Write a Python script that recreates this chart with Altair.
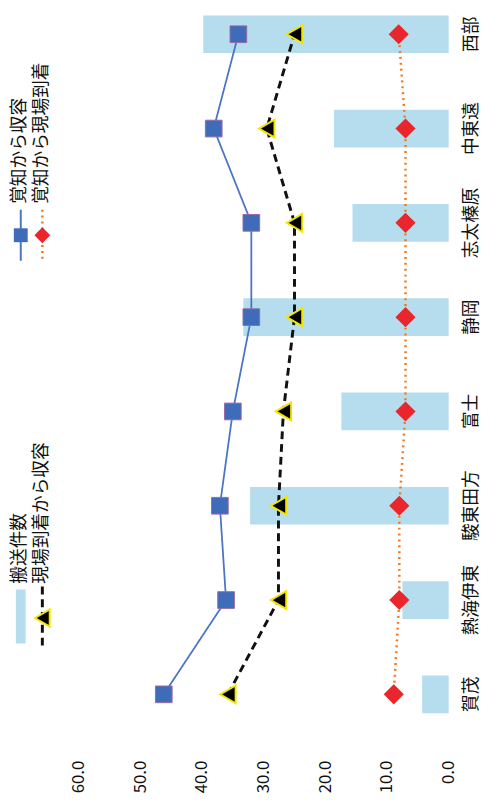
import altair as alt
import pandas as pd

# ---- data ----
categories = ["賀茂", "熱海伊東", "駿東田方", "富士", "静岡", "志太榛原", "中東遠", "西部"]
transport_count = [4.3, 7.5, 32.2, 17.4, 33.3, 15.6, 18.6, 39.8]      # 搬送件数 (bars)
call_to_admit = [46.2, 36.1, 37.1, 35.0, 32.0, 32.0, 38.1, 34.1]        # 覚知から収容
arrive_to_admit = [35.8, 27.6, 27.6, 26.8, 25.0, 25.0, 29.5, 25.0]      # 現場到着から収容
call_to_arrive = [8.9, 8.0, 8.0, 7.0, 7.0, 7.0, 7.0, 8.1]               # 覚知から現場到着
tick_values = [0, 10, 20, 30, 40, 50, 60]
legend_labels = ["搬送件数", "現場到着から収容", "覚知から収容", "覚知から現場到着"]

df = pd.DataFrame({
    "cat": categories,
    "idx": list(range(len(categories))),
    "bar": transport_count,
    "a": call_to_admit,
    "b": arrive_to_admit,
    "c": call_to_arrive,
})

FONT = "Noto Sans CJK JP"
BAR_COLOR = "#b6dded"
order_top_down = categories[::-1]

xscale = alt.Scale(domain=[0, 60], reverse=True, nice=False)
yscale = alt.Scale(domain=order_top_down, paddingInner=0.6, paddingOuter=0)

x_axis = alt.Axis(values=tick_values, format=".1f", labelAngle=270, labelAlign="right",
                  labelBaseline="middle", labelPadding=48, ticks=False, domain=False,
                  grid=False, title=None, labelFontSize=17, labelFont=FONT,
                  labelColor="#111")
y_axis = alt.Axis(orient="right", labelAngle=270, labelAlign="center", labelBaseline="middle",
                  labelPadding=23, ticks=False, domain=False, grid=False, title=None,
                  labelFontSize=18, labelFont=FONT, labelColor="#111")

base = alt.Chart(df)

bars = base.mark_bar(color=BAR_COLOR, opacity=1).encode(
    x=alt.X("bar:Q", scale=xscale, axis=x_axis),
    y=alt.Y("cat:N", scale=yscale, sort=order_top_down, axis=y_axis),
)

def series(field, stroke, width, dash, shape, fill, size, mstroke, mwidth):
    line = base.mark_line(color=stroke, strokeWidth=width, strokeDash=dash).encode(
        x=alt.X(f"{field}:Q", scale=xscale),
        y=alt.Y("cat:N", scale=yscale, sort=order_top_down),
        order="idx:O",
    )
    pts = base.mark_point(shape=shape, filled=True, fill=fill, size=size, opacity=1,
                          stroke=mstroke, strokeWidth=mwidth).encode(
        x=alt.X(f"{field}:Q", scale=xscale),
        y=alt.Y("cat:N", scale=yscale, sort=order_top_down),
    )
    return [line, pts]

layers = [bars]
layers += series("a", "#4a74c4", 1.8, [1, 0], "square", "#3f6cb8", 289, "#9a6aa8", 1)
layers += series("b", "#111111", 3, [8, 5], "triangle-left", "#000000", 330, "#f2e600", 2)
layers += series("c", "#f07a20", 2.5, [2, 4], "diamond", "#e8262b", 420, "#e8262b", 0)

def vtext(label, x, y):
    return alt.Chart(pd.DataFrame({"t": [label]})).mark_text(
        angle=270, align="left", baseline="middle", font=FONT, fontSize=18, color="#111"
    ).encode(x=alt.value(x), y=alt.value(y), text="t:N")

one = pd.DataFrame({"k": [0]})

# legend: 搬送件数
layers.append(alt.Chart(one).mark_rect(color=BAR_COLOR).encode(
    x=alt.value(-64), x2=alt.value(-54), y=alt.value(585), y2=alt.value(640)))
layers.append(vtext(legend_labels[0], -60, 579))
# legend: 現場到着から収容
layers.append(alt.Chart(one).mark_rule(color="#111", strokeWidth=3, strokeDash=[8, 5]).encode(
    x=alt.value(-37), y=alt.value(582), y2=alt.value(642)))
layers.append(alt.Chart(one).mark_point(shape="triangle-left", filled=True, fill="#000",
                                        size=300, opacity=1, stroke="#f2e600", strokeWidth=2).encode(
    x=alt.value(-37), y=alt.value(614)))
layers.append(vtext(legend_labels[1], -37, 579))
# legend: 覚知から収容
layers.append(alt.Chart(one).mark_rule(color="#4a74c4", strokeWidth=2).encode(
    x=alt.value(-59), y=alt.value(198), y2=alt.value(250)))
layers.append(alt.Chart(one).mark_point(shape="square", filled=True, fill="#3f6cb8",
                                        size=200, opacity=1).encode(
    x=alt.value(-59), y=alt.value(224)))
layers.append(vtext(legend_labels[2], -60, 192))
# legend: 覚知から現場到着
layers.append(alt.Chart(one).mark_rule(color="#f07a20", strokeWidth=2.5, strokeDash=[2, 4]).encode(
    x=alt.value(-37), y=alt.value(198), y2=alt.value(250)))
layers.append(alt.Chart(one).mark_point(shape="diamond", filled=True, fill="#e8262b",
                                        size=260, opacity=1).encode(
    x=alt.value(-37), y=alt.value(224)))
layers.append(vtext(legend_labels[3], -37, 192))

chart = alt.layer(*layers).properties(
    width=377, height=711,
    padding={"left": 72, "top": 0, "right": 36, "bottom": 86},
    autosize="none",
    background="white",
).configure_view(stroke=None)

chart.save("out.html", embed_options={"renderer": "svg", "actions": False})
